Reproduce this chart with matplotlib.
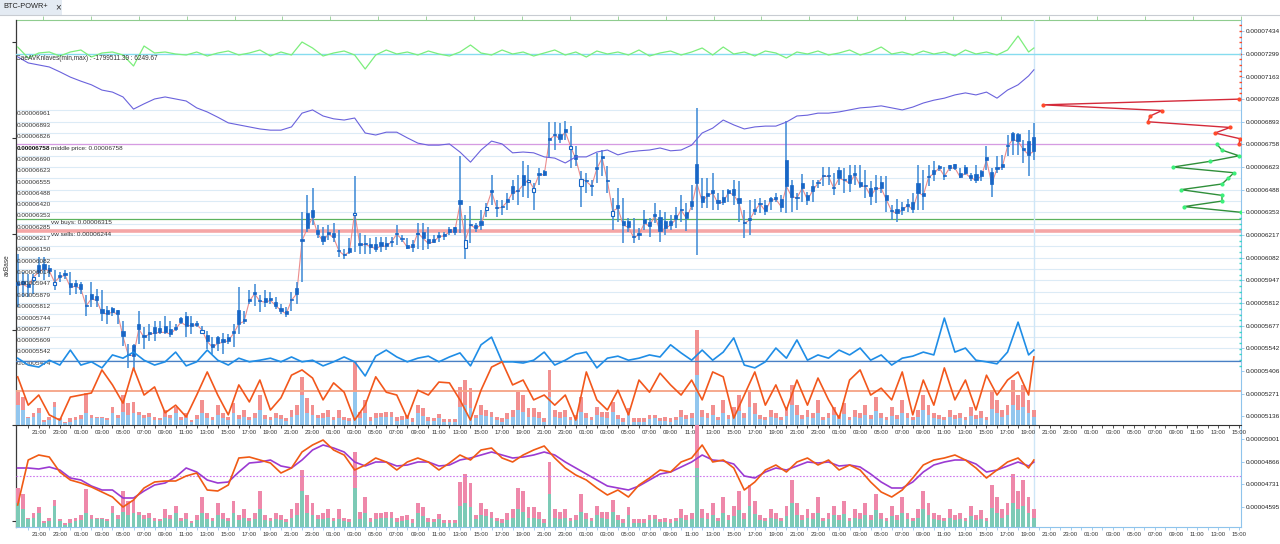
import numpy as np
import matplotlib.pyplot as plt
from matplotlib.patches import Rectangle
from matplotlib.lines import Line2D
from matplotlib.transforms import blended_transform_factory

plt.rcParams['font.family'] = ['Liberation Sans', 'DejaVu Sans']

# --- candles, price in 1e-8 BTC (30 min candles, first one 19:00) ---
c_open = [5937, 5943, 5927, 5947, 6037, 6043, 6023, 5921, 5977, 5991,
          5931, 5931, 5923, 5803, 5867, 5851, 5777, 5773, 5781, 5771,
          5647, 5507, 5561, 5687, 5623, 5637, 5667, 5663, 5677, 5657,
          5667, 5721, 5737, 5691, 5695, 5633, 5623, 5567, 5611, 5597,
          5611, 5643, 5773, 5717, 5833, 5875, 5831, 5843, 5843, 5817,
          5783, 5767, 5837, 5901, 6191, 6347, 6367, 6247, 6211, 6233,
          6231, 6131, 6105, 6141, 6335, 6171, 6171, 6161, 6161, 6173,
          6171, 6183, 6231, 6201, 6157, 6163, 6221, 6237, 6191, 6195,
          6215, 6221, 6255, 6263, 6427, 6143, 6285, 6279, 6301, 6367,
          6485, 6385, 6391, 6431, 6511, 6487, 6577, 6531, 6477, 6585,
          6601, 6795, 6821, 6821, 6847, 6731, 6693, 6511, 6545, 6517,
          6621, 6687, 6547, 6331, 6397, 6301, 6303, 6211, 6227, 6311,
          6297, 6341, 6327, 6303, 6303, 6335, 6375, 6357, 6423, 6643,
          6453, 6471, 6487, 6427, 6443, 6487, 6491, 6439, 6295, 6319,
          6371, 6411, 6397, 6437, 6443, 6431, 6663, 6517, 6447, 6527,
          6457, 6511, 6535, 6575, 6575, 6505, 6603, 6551, 6575, 6585,
          6531, 6515, 6495, 6501, 6531, 6455, 6367, 6373, 6387, 6401,
          6413, 6527, 6471, 6571, 6603, 6627, 6577, 6637, 6641, 6587,
          6623, 6577, 6583, 6597, 6683, 6591, 6621, 6641, 6755, 6827,
          6821, 6735, 6777, 6803]
c_close = [5917, 5923, 5907, 5967, 5997, 6017, 6003, 5937, 5967, 5977,
           5907, 5911, 5897, 5795, 5837, 5827, 5753, 5747, 5757, 5747,
           5613, 5501, 5497, 5657, 5607, 5627, 5631, 5637, 5637, 5627,
           5657, 5697, 5677, 5677, 5683, 5651, 5583, 5547, 5571, 5577,
           5587, 5631, 5687, 5703, 5823, 5867, 5823, 5817, 5827, 5797,
           5767, 5747, 5829, 5867, 6183, 6257, 6323, 6223, 6181, 6223,
           6203, 6123, 6097, 6117, 6351, 6157, 6163, 6147, 6137, 6151,
           6151, 6177, 6223, 6191, 6143, 6147, 6231, 6197, 6167, 6177,
           6207, 6213, 6237, 6237, 6401, 6187, 6277, 6257, 6277, 6383,
           6477, 6377, 6383, 6417, 6471, 6479, 6517, 6547, 6495, 6577,
           6577, 6787, 6813, 6791, 6833, 6747, 6671, 6553, 6537, 6509,
           6613, 6677, 6539, 6361, 6377, 6277, 6263, 6203, 6219, 6287,
           6271, 6333, 6243, 6257, 6277, 6311, 6367, 6317, 6391, 6527,
           6417, 6453, 6467, 6407, 6413, 6471, 6457, 6407, 6287, 6307,
           6363, 6403, 6361, 6423, 6431, 6387, 6507, 6447, 6439, 6497,
           6427, 6483, 6527, 6567, 6567, 6497, 6557, 6543, 6527, 6577,
           6511, 6507, 6451, 6493, 6497, 6427, 6359, 6347, 6367, 6393,
           6371, 6471, 6453, 6563, 6583, 6619, 6569, 6617, 6617, 6563,
           6587, 6557, 6547, 6567, 6663, 6523, 6613, 6623, 6747, 6787,
           6777, 6727, 6697, 6717]
c_high = [6107, 5997, 5987, 5987, 6087, 6087, 6037, 6007, 5997, 6007,
          5997, 5947, 5937, 5857, 5937, 5897, 5887, 5797, 5787, 5771,
          5707, 5567, 5567, 5767, 5667, 5687, 5707, 5707, 5737, 5707,
          5687, 5727, 5757, 5737, 5707, 5677, 5647, 5607, 5617, 5631,
          5627, 5687, 5907, 5767, 5887, 5927, 5857, 5887, 5877, 5847,
          5807, 5787, 5877, 5937, 6357, 6457, 6497, 6277, 6267, 6277,
          6287, 6247, 6137, 6197, 6567, 6227, 6217, 6197, 6207, 6207,
          6207, 6207, 6277, 6217, 6197, 6187, 6287, 6287, 6267, 6217,
          6237, 6237, 6267, 6267, 6687, 6337, 6391, 6291, 6367, 6407,
          6577, 6427, 6427, 6467, 6547, 6577, 6657, 6637, 6527, 6617,
          6607, 6891, 6891, 6887, 6897, 6867, 6747, 6597, 6587, 6547,
          6707, 6723, 6631, 6437, 6497, 6437, 6317, 6317, 6257, 6367,
          6317, 6407, 6367, 6357, 6337, 6387, 6457, 6407, 6517, 6977,
          6557, 6557, 6587, 6467, 6487, 6491, 6547, 6537, 6367, 6427,
          6431, 6437, 6427, 6443, 6471, 6457, 6897, 6547, 6467, 6581,
          6477, 6547, 6547, 6623, 6623, 6587, 6623, 6617, 6637, 6637,
          6637, 6603, 6537, 6577, 6571, 6571, 6397, 6431, 6417, 6431,
          6467, 6637, 6607, 6637, 6657, 6637, 6623, 6637, 6643, 6617,
          6637, 6587, 6637, 6607, 6747, 6617, 6687, 6697, 6817, 6831,
          6827, 6787, 6843, 6883]
c_low = [5787, 5847, 5847, 5867, 5967, 5947, 5967, 5887, 5937, 5957,
         5857, 5867, 5867, 5737, 5787, 5787, 5707, 5687, 5737, 5687,
         5557, 5427, 5417, 5567, 5537, 5587, 5587, 5627, 5627, 5607,
         5647, 5687, 5607, 5627, 5667, 5627, 5537, 5507, 5527, 5507,
         5567, 5547, 5627, 5687, 5807, 5797, 5757, 5787, 5807, 5777,
         5747, 5727, 5767, 5807, 5937, 6237, 6277, 6197, 6157, 6187,
         6177, 6087, 6077, 6107, 6117, 6107, 6107, 6107, 6117, 6117,
         6127, 6147, 6157, 6177, 6137, 6117, 6137, 6127, 6137, 6167,
         6177, 6187, 6217, 6217, 6227, 6077, 6167, 6237, 6247, 6327,
         6397, 6327, 6337, 6367, 6427, 6397, 6447, 6437, 6367, 6517,
         6567, 6677, 6727, 6767, 6787, 6617, 6627, 6387, 6467, 6451,
         6527, 6567, 6467, 6247, 6297, 6171, 6237, 6167, 6187, 6247,
         6207, 6287, 6177, 6217, 6247, 6257, 6297, 6243, 6367, 6097,
         6377, 6377, 6367, 6367, 6397, 6417, 6397, 6297, 6197, 6217,
         6337, 6347, 6337, 6367, 6417, 6357, 6347, 6357, 6367, 6417,
         6397, 6417, 6497, 6507, 6517, 6457, 6517, 6467, 6477, 6517,
         6497, 6437, 6397, 6407, 6467, 6357, 6307, 6297, 6337, 6357,
         6351, 6367, 6367, 6507, 6537, 6597, 6543, 6597, 6607, 6557,
         6577, 6537, 6527, 6537, 6607, 6443, 6587, 6607, 6687, 6697,
         6697, 6647, 6567, 6667]

# volume per candle (total and buy part)
vol_total = [33, 28, 8, 12, 17, 5, 8, 23, 7, 3, 7, 8, 10, 32, 10, 8, 8, 7, 18, 10,
             30, 22, 23, 13, 10, 12, 8, 7, 15, 10, 18, 8, 12, 5, 10, 25, 12, 8, 20, 12,
             8, 22, 10, 15, 8, 12, 30, 10, 8, 12, 10, 7, 15, 20, 48, 27, 20, 10, 12, 15,
             8, 15, 8, 7, 63, 13, 25, 8, 12, 12, 13, 13, 8, 9, 10, 7, 20, 17, 8, 7,
             11, 6, 6, 6, 38, 45, 37, 10, 20, 15, 13, 8, 7, 12, 15, 33, 30, 17, 17, 13,
             7, 55, 15, 13, 15, 8, 10, 28, 12, 8, 18, 13, 13, 23, 10, 7, 17, 7, 7, 7,
             10, 10, 7, 8, 7, 8, 15, 10, 12, 95, 15, 12, 20, 8, 25, 10, 18, 30, 12, 35,
             22, 10, 8, 15, 12, 8, 18, 40, 20, 10, 15, 12, 25, 8, 12, 18, 10, 22, 8, 15,
             12, 20, 10, 28, 12, 8, 18, 10, 25, 12, 8, 15, 30, 20, 12, 10, 8, 15, 10, 12,
             8, 18, 10, 14, 8, 35, 25, 15, 20, 45, 30, 40, 25, 15]
vol_buy = [20, 15, 7, 8, 12, 3, 5, 18, 5, 2, 3, 5, 6, 12, 7, 7, 7, 5, 12, 7,
           13, 10, 12, 10, 7, 8, 5, 5, 8, 7, 12, 5, 7, 3, 6, 12, 7, 5, 10, 7,
           5, 12, 6, 8, 5, 7, 15, 6, 5, 7, 6, 4, 8, 10, 30, 12, 10, 7, 7, 8,
           5, 7, 5, 4, 33, 7, 12, 4, 7, 8, 8, 8, 4, 5, 6, 3, 12, 9, 4, 4,
           7, 3, 3, 3, 18, 20, 17, 7, 10, 9, 8, 5, 3, 6, 8, 15, 13, 8, 8, 7,
           3, 28, 8, 7, 8, 5, 6, 13, 7, 5, 10, 8, 7, 13, 6, 3, 10, 3, 3, 3,
           6, 7, 4, 4, 3, 5, 8, 6, 7, 50, 8, 7, 10, 5, 12, 6, 9, 14, 7, 18,
           11, 6, 5, 8, 7, 5, 9, 20, 10, 6, 8, 7, 12, 5, 7, 10, 6, 11, 5, 8,
           7, 10, 6, 14, 7, 5, 9, 6, 12, 7, 5, 8, 15, 10, 7, 6, 5, 8, 6, 7,
           5, 9, 6, 7, 5, 16, 12, 8, 10, 20, 15, 18, 12, 8]

middle_price = 6758
vw_buys = 6315
vw_sells = 6244

# price levels
grid_lv = [6961, 6893, 6826, 6758, 6690, 6623, 6555, 6488, 6420, 6353, 6285, 6217,
           6150, 6082, 6014, 5947, 5879, 5812, 5744, 5677, 5609, 5542, 5474]
right_lv = [7434, 7299, 7163, 7028, 6893, 6758, 6623, 6488, 6353, 6217, 6082,
            5947, 5812, 5677, 5542, 5406, 5271, 5136, 5001, 4866, 4731, 4595]
left_ticks = [7368, 6795, 6223, 5651, 5084, 4512]

# volume profile (price level, volume)
prof_sell_lv = [7028, 6994, 6960, 6927, 6893, 6859, 6826, 6792, 6758]
prof_sell_vol = [0.1, 9.9, 3.95, 4.55, 4.65, 0.55, 1.3, 0.05, 0.1]
prof_buy_lv = [6758, 6724, 6690, 6657, 6623, 6589, 6555, 6522, 6488, 6454, 6420, 6387, 6353]
prof_buy_vol = [1.2, 0.95, 0.1, 1.55, 3.4, 0.35, 0.65, 0.95, 3.0, 0.95, 0.95, 2.85, 0.0]

# --- indicators, one value per hour plus the last candle ---
ind_green = [1.4, -0.8, 0.2, 0.4, -0.4, 0.4, 0.8, -0.6, 0.2, 0.4,
             -0.2, -2.4, 1.6, 0.2, 0.4, 0.0, -0.2, 0.4, -0.4, 0.2,
             0.6, -0.2, 0.2, 0.8, -0.4, 0.4, -0.2, 2.4, 1.2, -0.4,
             0.2, 0.6, -0.2, -3.0, -0.2, 0.8, 0.0, 0.4, -0.2, 0.6,
             0.0, -0.4, 0.4, 1.8, 0.2, -0.2, 0.8, 0.0, 0.4, -0.4,
             0.2, 0.8, -0.2, 0.4, -0.6, 0.6, 0.0, 0.4, -0.2, 0.8,
             -0.4, 0.2, 0.6, -0.2, 0.4, 1.2, -0.2, 1.4, 0.0, 0.4,
             -0.4, 0.6, 0.2, -0.8, 0.4, 0.0, 0.6, -0.2, 0.2, 0.8,
             -0.2, 0.4, 1.4, 0.0, 0.4, -0.2, 0.6, 0.0, 0.4, -0.4,
             0.8, 0.0, 0.4, -0.2, 0.8, 3.6, 0.4, 1.2]
ind_purple = [90.9, 89.4, 88.9, 88.4, 87.2, 85.9, 84.9, 84.0, 82.7, 82.2,
              81.0, 78.0, 79.3, 80.5, 81.0, 80.5, 80.0, 78.3, 77.3, 76.0,
              74.6, 74.1, 73.6, 73.1, 72.8, 72.8, 73.6, 77.0, 77.8, 76.3,
              75.6, 75.3, 75.8, 72.1, 71.6, 72.3, 72.3, 70.9, 69.6, 69.1,
              69.1, 69.4, 67.4, 64.9, 67.9, 70.1, 69.4, 67.2, 67.4, 67.2,
              66.2, 65.9, 64.7, 66.2, 66.2, 67.4, 67.9, 66.7, 67.4, 67.7,
              67.9, 68.4, 67.7, 67.9, 69.1, 72.1, 73.3, 75.3, 74.1, 73.1,
              73.6, 73.8, 73.8, 74.8, 76.3, 76.5, 77.0, 77.0, 77.3, 77.8,
              78.3, 78.5, 78.8, 78.3, 77.8, 78.5, 79.5, 80.2, 80.7, 81.5,
              82.0, 81.5, 82.2, 80.7, 82.7, 84.0, 86.2, 87.7]
ind_blue = [16.5, 14.8, 14.3, 16.0, 14.8, 18.5, 14.8, 15.6, 14.1, 17.3,
            16.5, 18.0, 16.0, 14.8, 15.6, 18.0, 14.6, 15.6, 18.5, 16.0,
            14.8, 16.5, 15.6, 16.0, 16.5, 15.6, 16.8, 15.6, 16.0, 14.6,
            15.6, 16.8, 15.6, 12.1, 17.0, 18.5, 16.8, 15.6, 16.5, 17.0,
            15.6, 16.8, 17.8, 14.6, 19.8, 21.7, 15.6, 15.6, 15.3, 16.0,
            18.0, 14.8, 16.0, 17.5, 18.0, 14.1, 16.5, 17.0, 16.0, 16.5,
            17.3, 16.8, 19.8, 17.8, 16.0, 18.5, 16.0, 18.0, 21.5, 14.8,
            14.1, 15.6, 19.0, 16.5, 21.0, 16.0, 17.3, 16.5, 18.5, 17.3,
            19.0, 16.0, 17.3, 14.8, 16.5, 17.0, 18.0, 17.3, 26.4, 18.0,
            19.0, 16.0, 15.6, 15.1, 18.0, 25.4, 17.3, 18.5]
ind_orange = [11.9, 4.9, 7.4, 2.5, 1.2, 6.9, 7.4, 7.9, 13.6, 9.9,
              5.4, 14.1, 7.4, 9.4, 3.0, 4.9, 2.0, 7.4, 13.1, 7.4,
              2.5, 9.9, 5.7, 11.1, 3.7, 6.7, 12.3, 13.6, 11.6, 6.2,
              10.4, 8.1, 1.2, 4.9, 11.9, 8.1, 7.4, 1.7, 8.6, 7.4,
              10.6, 10.4, 6.2, 1.2, 8.6, 14.3, 15.6, 9.9, 11.1, 6.2,
              7.4, 4.9, 7.4, 1.2, 13.1, 6.2, 3.7, 8.6, 2.5, 11.1,
              8.1, 12.8, 9.9, 7.4, 11.1, 6.2, 13.1, 11.9, 1.7, 7.4,
              13.1, 4.9, 9.9, 3.7, 11.1, 4.9, 11.6, 6.2, 1.7, 11.1,
              13.6, 7.4, 9.1, 6.2, 13.1, 2.5, 11.1, 4.9, 14.1, 6.2,
              11.1, 3.7, 12.3, 7.4, 11.1, 13.1, 7.4, 16.8]
green_ref = 0.0
blue_ref = 15.8
orange_ref = 8.4

low_orange = [-5.8, 3.2, 4.2, 3.8, 0.8, -0.8, -1.4, -2.2, -3.2, -4.2,
              -6.2, -4.8, -2.4, -1.2, -1.0, -1.0, 0.0, 0.6, -2.8, -3.0,
              -1.8, 3.6, 3.8, 3.2, 2.6, 0.6, 1.6, 4.8, 6.2, 7.2,
              5.2, 4.2, 1.2, 2.2, 3.6, 2.8, 1.2, 2.8, 3.6, 2.8,
              1.2, 2.6, 4.2, 3.2, 5.2, 5.6, 3.6, 2.8, 4.2, 5.2,
              6.0, 3.6, 1.6, 0.2, -0.8, -2.4, -3.8, -2.8, -4.2, -1.8,
              -0.4, 1.2, 0.8, 2.8, 3.6, 6.2, 2.8, 3.2, 1.6, -2.8,
              -1.2, 1.2, 2.2, 0.8, 2.8, 3.6, 2.2, 3.2, 1.2, 2.2,
              1.2, -1.2, -3.2, -4.2, -2.8, -0.4, 2.2, 3.2, 3.6, 4.2,
              3.2, 1.6, -0.4, 1.2, 2.8, 3.6, 1.6, 3.2]
low_purple = [1.6, 1.6, 1.4, 1.8, 1.2, -0.4, -0.8, -2.0, -2.8, -2.8,
              -4.4, -4.4, -3.0, -1.8, -1.4, -0.2, 1.6, 0.8, -0.8, -1.4,
              -1.2, 0.8, 2.6, 2.8, 3.2, 2.0, 1.6, 3.2, 5.2, 6.2,
              5.6, 4.8, 2.8, 2.0, 2.8, 2.8, 2.0, 2.2, 2.8, 2.8,
              2.0, 2.2, 3.2, 3.6, 4.2, 4.8, 4.2, 3.6, 3.8, 4.2,
              4.8, 4.2, 2.8, 1.6, 0.4, -0.8, -2.0, -2.4, -2.8, -2.0,
              -0.8, 0.4, 0.8, 1.8, 2.8, 4.2, 3.2, 3.0, 2.4, 0.0,
              -0.4, 0.8, 1.6, 1.2, 2.0, 2.8, 2.6, 2.8, 2.0, 2.2,
              1.8, 0.4, -1.2, -2.4, -2.4, -1.2, 0.8, 2.2, 2.8, 3.2,
              3.2, 2.4, 0.8, 1.2, 2.0, 2.8, 2.0, 2.8]
low_ref = 0.0

W, H = 1280, 544
L, R, T, MID, B = 16, 1241, 20, 425, 527


def fx(px):
    return px / W


def fy(py):
    return 1 - py / H


def price_fmt(p):
    return '0.0000%04d' % p


def time_fmt(h, pos=None):
    return '%02d:00' % (int(round(19 + h)) % 24)


t = np.arange(len(c_open)) * 0.5
o = np.array(c_open)
c = np.array(c_close)
hi = np.array(c_high)
lo = np.array(c_low)
th = np.append(t[::2], t[-1])
vt = np.array(vol_total)
vb = np.array(vol_buy)

fig = plt.figure(figsize=(W / 100, H / 100), dpi=100)
fig.patch.set_facecolor('white')

# tab header
fig.add_artist(Rectangle((0, fy(15)), fx(62), 15 / H, transform=fig.transFigure,
                         facecolor='#e4ebf3', edgecolor='none'))
fig.add_artist(Line2D([0, 1], [fy(15), fy(15)], transform=fig.transFigure, color='#c8ccd2', lw=0.8))
fig.text(fx(3), fy(7), 'BTC-POWR+', fontsize=5.3, va='center', color='#222222')
fig.text(fx(55), fy(7), '\u00d7', fontsize=7, va='center', color='#333333')

# ---- main price axes ----
ax = fig.add_axes([fx(L), fy(B), fx(R) - fx(L), fy(T) - fy(B)])
ax.set_xlim(-0.16, 116.17)
ax.set_ylim(4476, 7500)
ax.hlines(grid_lv, -1, 120, color='#dcebf6', lw=0.8, zorder=1)
ax.axhline(middle_price, color='#d69be2', lw=0.9, zorder=2)
ax.axhline(vw_buys, color='#5db35d', lw=0.9, zorder=2)
ax.axhline(vw_sells, color='#f5a6a6', lw=2.6, zorder=2)
ax.axvline(t[-1] + 0.05, color='#cfe6f7', lw=1.0, zorder=2)

up = c > o
body_lo = np.minimum(o, c)
body_h = np.maximum(np.abs(c - o), 6)
ax.plot(t, c, color='#ec8c8c', lw=0.8, zorder=3)
ax.vlines(t, lo, hi, color='#3a87d5', lw=1.1, zorder=4)
ax.bar(t[~up], body_h[~up], bottom=body_lo[~up], width=0.3, color='#1866c6',
       edgecolor='#1866c6', lw=0.5, zorder=5)
ax.bar(t[up], body_h[up], bottom=body_lo[up], width=0.3, color='white',
       edgecolor='#1866c6', lw=0.8, zorder=5)

# left labels inside the chart
blend = blended_transform_factory(ax.transAxes, ax.transData)
for p in grid_lv:
    ax.annotate(price_fmt(p), xy=(0, p), xycoords=blend, xytext=(0.8, -0.8),
                textcoords='offset points', va='top', ha='left', fontsize=4.6,
                color='#111111' if p == middle_price else '#333333',
                fontweight='bold' if p == middle_price else 'normal', zorder=6)
ax.annotate('middle price: ' + price_fmt(middle_price), xy=(0, middle_price), xycoords=blend,
            xytext=(25, -0.8), textcoords='offset points', va='top', fontsize=4.6, color='#333333')
ax.annotate('vw buys: ' + price_fmt(vw_buys), xy=(0, vw_buys), xycoords=blend,
            xytext=(25, -0.8), textcoords='offset points', va='top', fontsize=4.6, color='#333333')
ax.annotate('vw sells: ' + price_fmt(vw_sells), xy=(0, vw_sells), xycoords=blend,
            xytext=(25, -0.8), textcoords='offset points', va='top', fontsize=4.6, color='#333333')

ax.yaxis.tick_right()
ax.set_yticks(right_lv)
ax.set_yticklabels([price_fmt(p) for p in right_lv])
ax.tick_params(axis='y', right=True, length=2, width=0.6, color='#8fc4ec', labelsize=4.6,
               pad=1.5, labelcolor='#222222')
ax.tick_params(axis='x', which='both', bottom=False, top=False, labelbottom=False, labeltop=False)
for s in ['top', 'bottom']:
    ax.spines[s].set_visible(False)
ax.spines['right'].set_color('#8fc4ec')
ax.spines['left'].set_color('#3a3a3a')
ax.spines['left'].set_linewidth(0.9)
sec = ax.secondary_yaxis('left')
sec.set_yticks(left_ticks)
sec.set_yticklabels([])
sec.tick_params(length=3, width=0.8, color='#333333')
sec.spines['left'].set_visible(False)
top = ax.secondary_xaxis('top')
top.set_xticks([2.40 + 4.549 * k for k in range(26)])
top.set_xticklabels([])
top.tick_params(length=3, width=0.6, color='#8fcc8f')
top.spines['top'].set_color('#8fcc8f')

# volume profile
axp = fig.add_axes(ax.get_position(), sharey=ax, facecolor='none')
axp.set_xlim(61.25, 0)
axp.plot(prof_sell_vol, prof_sell_lv, color='#d42a3a', lw=1.0, marker='o', ms=2,
         mfc='#ff4a2a', mec='#ff4a2a', zorder=6)
axp.plot(prof_buy_vol, prof_buy_lv, color='#2f8f3a', lw=1.0, marker='o', ms=2,
         mfc='#3cf07a', mec='#3cf07a', zorder=6)
axp.plot(np.zeros(13), np.arange(7469, 7050, -33.875)[:13], ls='none', marker='_', ms=3,
         color='#ff4a2a')
axp.plot(np.zeros(27), np.arange(6319, 5400, -33.875)[:27], ls='none', marker='_', ms=3,
         color='#3cd8c8')
axp.axis('off')

# ---- upper indicator overlays ----
upos = [fx(L), fy(MID), fx(R) - fx(L), fy(T) - fy(MID)]
axg = fig.add_axes(upos, sharex=ax, facecolor='none')
axg.set_ylim(-74.2, 6.8)
axg.axhline(green_ref, color='#86dcef', lw=1.0)
axg.plot(th, ind_green, color='#7cee7c', lw=0.9)
axg.axis('off')

axv = fig.add_axes(upos, sharex=ax, facecolor='none')
axv.set_ylim(0, 405)
axv.bar(t, vb, width=0.36, color='#92c6ee', zorder=3)
axv.bar(t, vt - vb, bottom=vb, width=0.36, color='#f29090', zorder=3)
axv.axis('off')

axu = fig.add_axes(upos, sharex=ax, facecolor='none')
axu.set_ylim(0, 100)
axu.plot(th, ind_purple, color='#6a62dc', lw=0.8)
axu.axhline(blue_ref, color='#4a7fc4', lw=0.9)
axu.axhline(orange_ref, color='#f6a385', lw=1.3)
axu.plot(th, ind_blue, color='#1f8de6', lw=1.2, zorder=4)
axu.plot(th, ind_orange, color='#f2571c', lw=1.2, zorder=4)
axu.set_yticks([])
for s in ['top', 'left', 'right']:
    axu.spines[s].set_visible(False)
axu.spines['bottom'].set_color('#333333')
axu.set_xticks(np.arange(2, 117, 2))
axu.set_xticks(np.arange(1, 117, 2), minor=True)
axu.xaxis.set_major_formatter(time_fmt)
axu.tick_params(axis='x', which='both', length=2, width=0.6, labelsize=4.3, pad=1.5,
                labelcolor='#333333', color='#333333')

# ---- lower panel ----
lpos = [fx(L), fy(B), fx(R) - fx(L), fy(MID) - fy(B)]
axlv = fig.add_axes(lpos, sharex=ax, facecolor='none')
axlv.set_ylim(0, 86)
axlv.bar(t, vb, width=0.36, color='#7ccab6', zorder=2)
axlv.bar(t, vt - vb, bottom=vb, width=0.36, color='#ee88aa', zorder=2)
axlv.axis('off')

axl = fig.add_axes(lpos, sharex=ax, facecolor='none')
axl.set_ylim(-10.2, 10.2)
axl.axhline(low_ref, color='#cc77ee', lw=0.8, ls=(0, (1.5, 1.5)))
axl.plot(th, low_purple, color='#9b3ad2', lw=1.2, zorder=3)
axl.plot(th, low_orange, color='#f05a14', lw=1.2, zorder=3)
axl.set_yticks([])
for s in ['top', 'left', 'right']:
    axl.spines[s].set_visible(False)
axl.spines['bottom'].set_color('#8fc4ec')
axl.tick_params(axis='x', which='both', length=2, width=0.6, labelsize=4.3, pad=1.5,
                labelcolor='#333333', color='#8fc4ec')
axl.set_xlim(-0.16, 116.17)

fig.text(fx(16), fy(58), 'CaeAVKnlaves(min,max) : -1799511.39 : 6249.67', fontsize=4.7,
         va='center', color='#333333')
fig.text(fx(7), fy(265), 'axBase', rotation=90, fontsize=4.7, va='center', ha='center',
         color='#333333')

fig.savefig('out.png', dpi=100)
